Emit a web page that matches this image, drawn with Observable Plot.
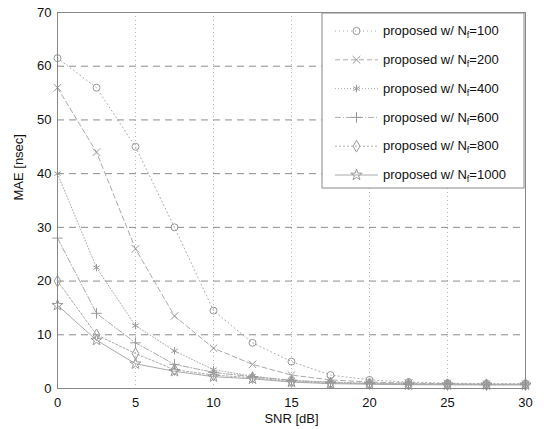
<!DOCTYPE html>
<html><head><meta charset="utf-8">
<script src="https://cdn.jsdelivr.net/npm/d3@7"></script>
<script src="https://cdn.jsdelivr.net/npm/@observablehq/plot@0.6"></script>
<style>
body{margin:0;background:#fff;}
#chart svg{font-family:"Liberation Sans",Arial,sans-serif;}
</style></head>
<body><div id="chart"></div>
<script>
const snr = [0, 2.5, 5, 7.5, 10, 12.5, 15, 17.5, 20, 22.5, 25, 27.5, 30];
const nf = [100, 200, 400, 600, 800, 1000];
const mae100  = [61.5, 56, 45, 30, 14.5, 8.5, 5, 2.5, 1.6, 1.2, 1.0, 0.9, 0.9];
const mae200  = [56, 44, 26, 13.5, 7.5, 4.5, 2.5, 1.6, 1.2, 1.0, 0.9, 0.8, 0.8];
const mae400  = [40, 22.5, 11.7, 7, 3.5, 2.3, 1.5, 1.2, 1.0, 0.9, 0.8, 0.8, 0.8];
const mae600  = [28, 14, 8.5, 4.5, 3.0, 2.2, 1.5, 1.1, 0.9, 0.8, 0.8, 0.7, 0.7];
const mae800  = [20, 10, 6.5, 3.5, 2.5, 2.0, 1.3, 1.0, 0.9, 0.8, 0.7, 0.7, 0.7];
const mae1000 = [15.5, 9, 4.6, 3.2, 2.2, 1.8, 1.2, 0.9, 0.8, 0.7, 0.7, 0.7, 0.7];
const xTicks = [0, 5, 10, 15, 20, 25, 30];
const yTicks = [0, 10, 20, 30, 40, 50, 60, 70];

const seriesVals = [mae100, mae200, mae400, mae600, mae800, mae1000];
const symbols = ["circle", "times", "asterisk", "plus", "diamond", "star"];
const dashes = ["1,3", "5,3", "1,2", "6,2,1,2", "2,2", "none"];
const series = nf.map((n, i) => ({n, vals: seriesVals[i], symbol: symbols[i], dash: dashes[i]}));
const rows = series.flatMap(s => s.vals.map((v, j) => ({n: s.n, x: snr[j], y: v})));

const W = 544, H = 429;
const plot = Plot.plot({
  width: W, height: H,
  marginLeft: 57, marginRight: 19, marginTop: 12, marginBottom: 41,
  style: {fontSize: "13px", fontFamily: "Liberation Sans, Arial, sans-serif", color: "#111", background: "#fff"},
  x: {domain: [0, 30], ticks: xTicks, label: null},
  y: {domain: [0, 70], ticks: yTicks, label: null},
  marks: [
    Plot.gridY(yTicks.slice(1, -1), {stroke: "#666", strokeOpacity: 0.75, strokeDasharray: "7,5"}),
    Plot.gridX(xTicks.slice(1, -1), {stroke: "#999", strokeOpacity: 0.7, strokeDasharray: "1,3"}),
    ...series.map(s => Plot.line(rows.filter(r => r.n === s.n), {x: "x", y: "y", stroke: "#aaa", strokeWidth: 1, strokeDasharray: s.dash})),
    ...series.map(s => Plot.dot(rows.filter(r => r.n === s.n), {x: "x", y: "y", symbol: () => s.symbol, r: 3.5, stroke: "#999", strokeWidth: 1})),
    Plot.frame({stroke: "#888", strokeWidth: 1}),
    Plot.axisX({ticks: xTicks, tickSize: 0, tickPadding: 9, fontSize: 13}),
    Plot.axisY({ticks: yTicks, tickSize: 0, tickPadding: 6, fontSize: 13}),
    Plot.text(["SNR [dB]"], {frameAnchor: "bottom", dy: 34, fontSize: 13}),
    Plot.text(["MAE [nsec]"], {frameAnchor: "left", dx: -39, rotate: -90, fontSize: 13})
  ]
});
document.getElementById("chart").appendChild(plot);

// legend
const svg = d3.select(plot);
const lx0 = 322, ly0 = 13, lw = 202, lh = 175;
const g = svg.append("g").attr("text-anchor", "start");
g.append("rect").attr("x", lx0).attr("y", ly0).attr("width", lw).attr("height", lh)
  .attr("fill", "#fff").attr("stroke", "#888").attr("stroke-width", 1);
const sym = {circle: d3.symbolCircle, times: d3.symbolTimes, asterisk: d3.symbolAsterisk, plus: d3.symbolPlus, diamond: d3.symbolDiamond, star: d3.symbolStar};
series.forEach((s, i) => {
  const cy = 31 + i * 28.8;
  g.append("line").attr("x1", 335).attr("x2", 378).attr("y1", cy).attr("y2", cy)
    .attr("stroke", "#aaa").attr("stroke-dasharray", s.dash === "none" ? null : s.dash);
  g.append("path").attr("d", d3.symbol(sym[s.symbol], 40)()).attr("transform", `translate(356.5,${cy})`)
    .attr("fill", "none").attr("stroke", "#999");
  const t = g.append("text").attr("x", 383).attr("y", cy).attr("dy", "0.32em")
    .attr("text-anchor", "start").attr("font-size", 13).attr("fill", "#111");
  t.append("tspan").text("proposed w/ N");
  t.append("tspan").attr("font-size", 9).attr("dy", 3).text("f");
  t.append("tspan").attr("dy", -3).text("=" + s.n);
});
</script></body></html>
